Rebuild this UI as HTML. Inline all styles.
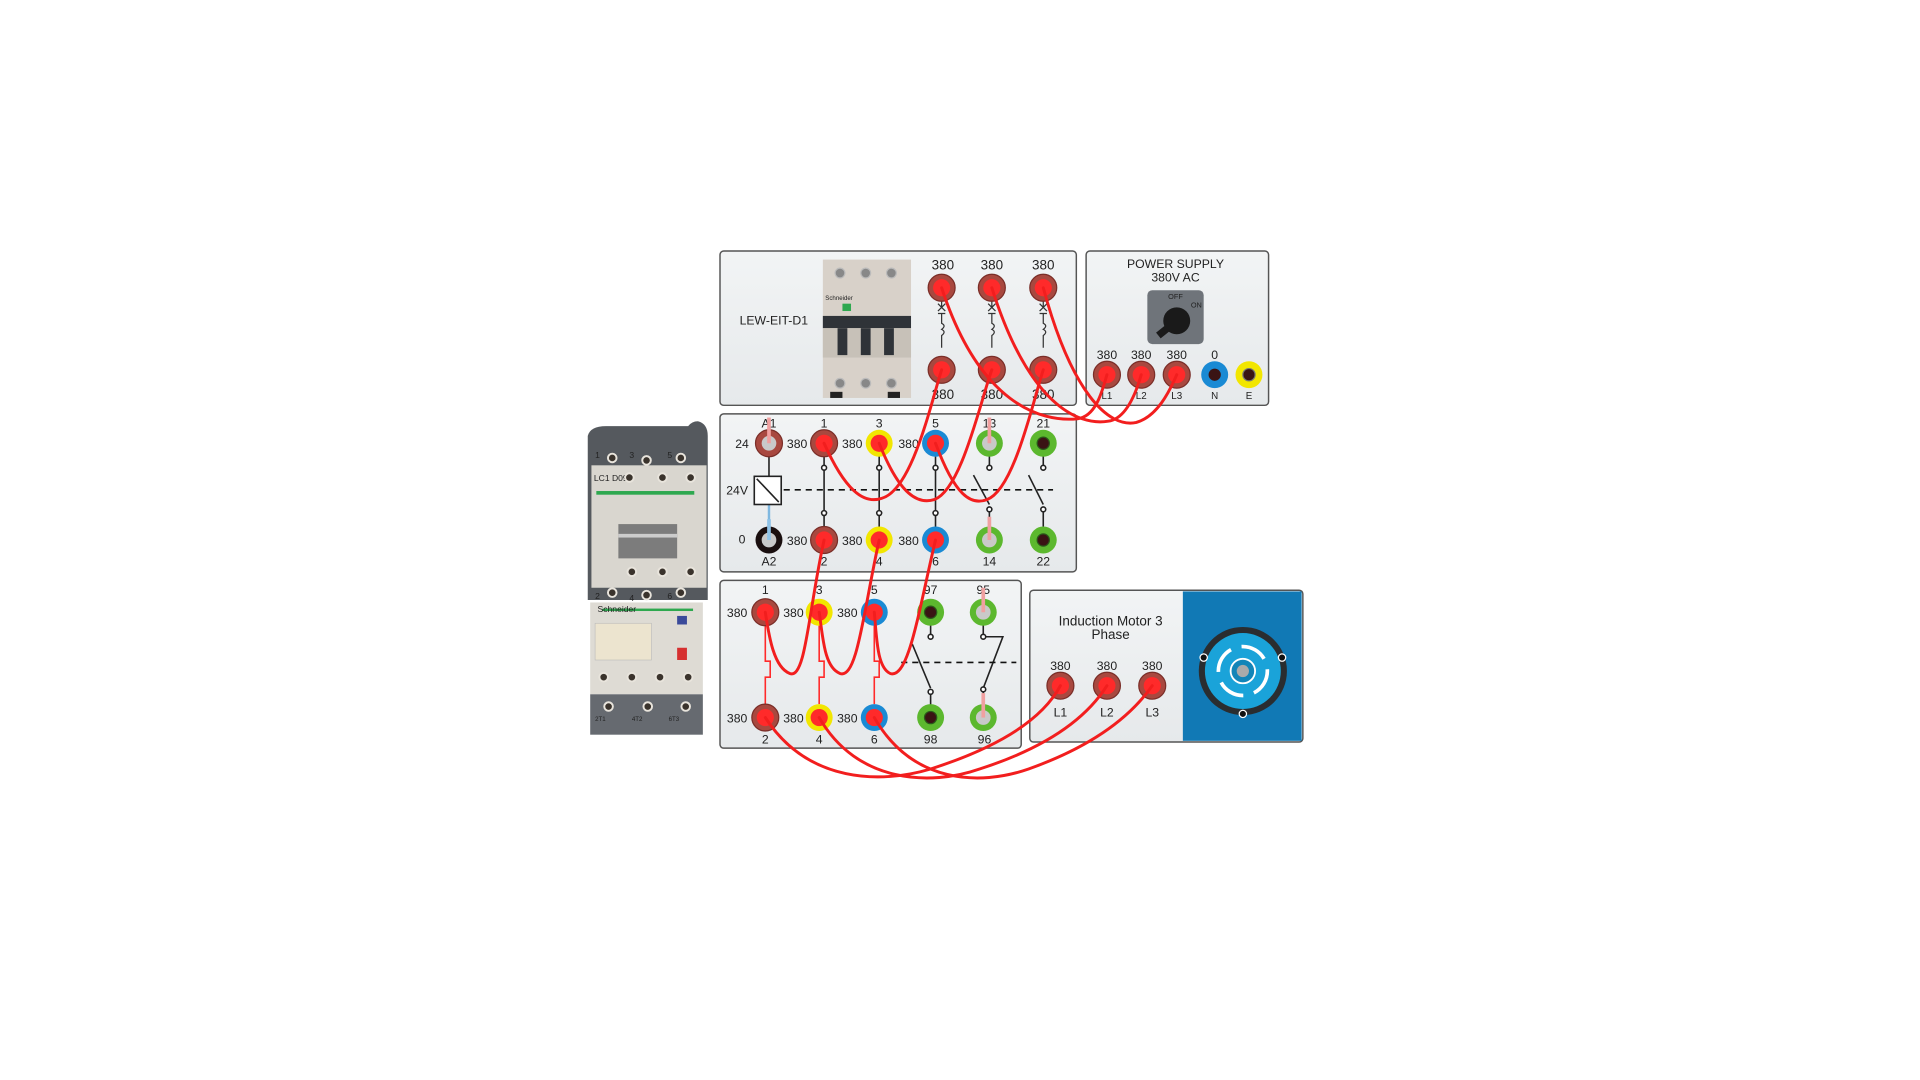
<!DOCTYPE html>
<html><head><meta charset="utf-8"><style>
html,body{margin:0;padding:0;background:#fff;width:1920px;height:1080px;overflow:hidden}
svg{display:block}
text{font-family:"Liberation Sans",sans-serif;fill:#222}
</style></head><body>
<svg width="1920" height="1080" viewBox="0 0 1568 882" preserveAspectRatio="none" xmlns="http://www.w3.org/2000/svg">
<defs>
<linearGradient id="pn" x1="0" y1="0" x2="0" y2="1"><stop offset="0" stop-color="#f2f4f5"/><stop offset="1" stop-color="#e6e9eb"/></linearGradient>
</defs>
<!-- left contactor image -->
<g>
<path d="M480,356 Q482,348 495,348 L562,348 Q565,344 570,344 Q578,346 578,356 L578,490 L480,490 Z" fill="#55595e"/>
<rect x="483" y="380" width="94" height="100" fill="#d9d6cf"/>
<rect x="505" y="428" width="48" height="28" fill="#7c7c7c"/>
<rect x="505" y="436" width="48" height="3" fill="#ccc"/>
<rect x="487" y="401" width="80" height="3" fill="#2ea84f"/>
<text x="485" y="393" font-size="7" fill="#999">LC1 D09</text>
<rect x="482" y="492" width="92" height="75" fill="#dedbd4"/>
<rect x="486" y="509" width="46" height="30" fill="#ece4cf" stroke="#bbb" stroke-width="0.5"/>
<rect x="553" y="503" width="8" height="7" fill="#3a4a9a"/>
<rect x="553" y="529" width="8" height="10" fill="#d63030"/>
<rect x="492" y="497" width="74" height="2" fill="#2ea84f"/>
<text x="488" y="500" font-size="7" fill="#2ea84f">Schneider</text>
<rect x="482" y="567" width="92" height="33" fill="#666a70"/>
<g fill="#3a332c" stroke="#e8e4dc" stroke-width="1.6">
<circle cx="500" cy="374" r="3.5"/><circle cx="528" cy="376" r="3.5"/><circle cx="556" cy="374" r="3.5"/>
<circle cx="514" cy="390" r="3.5"/><circle cx="541" cy="390" r="3.5"/><circle cx="564" cy="390" r="3.5"/>
<circle cx="516" cy="467" r="3.5"/><circle cx="541" cy="467" r="3.5"/><circle cx="564" cy="467" r="3.5"/>
<circle cx="500" cy="484" r="3.5"/><circle cx="528" cy="486" r="3.5"/><circle cx="556" cy="484" r="3.5"/>
<circle cx="493" cy="553" r="3.5"/><circle cx="516" cy="553" r="3.5"/><circle cx="539" cy="553" r="3.5"/><circle cx="562" cy="553" r="3.5"/>
<circle cx="497" cy="577" r="3.5"/><circle cx="529" cy="577" r="3.5"/><circle cx="560" cy="577" r="3.5"/>
</g>
<g font-size="7" fill="#eee"><text x="486" y="374" fill="#eee">1</text><text x="514" y="374" fill="#eee">3</text><text x="545" y="374" fill="#eee">5</text>
<text x="486" y="489" fill="#eee">2</text><text x="514" y="491" fill="#eee">4</text><text x="545" y="489" fill="#eee">6</text>
<text x="486" y="589" font-size="5" fill="#eee">2T1</text><text x="516" y="589" font-size="5" fill="#eee">4T2</text><text x="546" y="589" font-size="5" fill="#eee">6T3</text></g>
</g>

<!-- panels -->
<g stroke="#555" stroke-width="1.2" fill="url(#pn)">
<rect x="588" y="205" width="291" height="126" rx="3"/>
<rect x="887" y="205" width="149" height="126" rx="3"/>
<rect x="588" y="338" width="291" height="129" rx="3"/>
<rect x="588" y="474" width="246" height="137" rx="3"/>
<rect x="841" y="482" width="223" height="124" rx="3"/>
</g>
<rect x="966" y="483" width="97" height="122" fill="#1179b5"/>

<!-- MCB -->
<text x="604" y="265" font-size="10">LEW-EIT-D1</text>
<rect x="672" y="212" width="72" height="113" fill="#d8d1c9"/>
<rect x="672" y="258" width="72" height="10" fill="#2f3338"/>
<rect x="672" y="268" width="72" height="24" fill="#c7c1b8"/>
<rect x="684" y="268" width="8" height="22" fill="#2f3338"/><rect x="703" y="268" width="8" height="22" fill="#2f3338"/><rect x="722" y="268" width="8" height="22" fill="#2f3338"/>
<g fill="#888" stroke="#bbb"><circle cx="686" cy="223" r="4"/><circle cx="707" cy="223" r="4"/><circle cx="728" cy="223" r="4"/><circle cx="686" cy="313" r="4"/><circle cx="707" cy="313" r="4"/><circle cx="728" cy="313" r="4"/></g>
<rect x="678" y="320" width="10" height="5" fill="#222"/><rect x="725" y="320" width="10" height="5" fill="#222"/>
<text x="674" y="245" font-size="5" fill="#2ea84f">Schneider</text>
<rect x="688" y="248" width="7" height="6" fill="#2ea84f"/>
<g stroke="#333" stroke-width="1" fill="none">
<path d="M769,246 v5 m-3,-3 l6,6 m0,-6 l-6,6 m-0,2 h6 m-3,0 v8 q4,2 0,5 q4,2 0,5 v10"/>
<path d="M810,246 v5 m-3,-3 l6,6 m0,-6 l-6,6 m-0,2 h6 m-3,0 v8 q4,2 0,5 q4,2 0,5 v10"/>
<path d="M852,246 v5 m-3,-3 l6,6 m0,-6 l-6,6 m-0,2 h6 m-3,0 v8 q4,2 0,5 q4,2 0,5 v10"/>
</g>
<g font-size="11" text-anchor="middle">
<text x="770" y="220">380</text><text x="810" y="220">380</text><text x="852" y="220">380</text>
<text x="770" y="326">380</text><text x="810" y="326">380</text><text x="852" y="326">380</text>
</g>

<!-- Power supply -->
<g font-size="10" text-anchor="middle">
<text x="960" y="219">POWER SUPPLY</text><text x="960" y="230">380V AC</text>
<text x="904" y="293">380</text><text x="932" y="293">380</text><text x="961" y="293">380</text><text x="992" y="293">0</text>
</g>
<g font-size="8" text-anchor="middle"><text x="904" y="326">L1</text><text x="932" y="326">L2</text><text x="961" y="326">L3</text><text x="992" y="326">N</text><text x="1020" y="326">E</text></g>
<rect x="937" y="237" width="46" height="44" rx="4" fill="#6f747a"/>
<circle cx="961" cy="262" r="11" fill="#1a1a1a"/><path d="M961,262 L946,274" stroke="#1a1a1a" stroke-width="6"/>
<text x="960" y="244" font-size="6" text-anchor="middle" fill="#fff">OFF</text><text x="977" y="251" font-size="6" text-anchor="middle" fill="#fff">ON</text>

<!-- contactor panel -->
<g font-size="10" text-anchor="middle">
<text x="628" y="349">A1</text><text x="673" y="349">1</text><text x="718" y="349">3</text><text x="764" y="349">5</text><text x="808" y="349">13</text><text x="852" y="349">21</text>
<text x="628" y="462">A2</text><text x="673" y="462">2</text><text x="718" y="462">4</text><text x="764" y="462">6</text><text x="808" y="462">14</text><text x="852" y="462">22</text>
<text x="606" y="366">24</text><text x="651" y="366">380</text><text x="696" y="366">380</text><text x="742" y="366">380</text>
<text x="606" y="444">0</text><text x="651" y="445">380</text><text x="696" y="445">380</text><text x="742" y="445">380</text>
<text x="602" y="404">24V</text>
</g>
<g stroke="#222" stroke-width="1.3" fill="#fff">
<line x1="628" y1="370" x2="628" y2="389"/>
<line x1="628" y1="412" x2="628" y2="430" stroke="#7fb8e0" stroke-width="2"/>
<rect x="616" y="389" width="22" height="23"/><line x1="618" y1="391" x2="636" y2="410"/>
<line x1="673" y1="372" x2="673" y2="432"/><line x1="718" y1="372" x2="718" y2="432"/><line x1="764" y1="372" x2="764" y2="432"/>
<line x1="808" y1="372" x2="808" y2="382"/><line x1="852" y1="372" x2="852" y2="382"/>
<line x1="795" y1="388" x2="808" y2="412"/><line x1="840" y1="388" x2="852" y2="412"/>
<line x1="808" y1="418" x2="808" y2="430"/><line x1="852" y1="418" x2="852" y2="430"/>
<circle cx="673" cy="382" r="2"/><circle cx="673" cy="419" r="2"/><circle cx="718" cy="382" r="2"/><circle cx="718" cy="419" r="2"/><circle cx="764" cy="382" r="2"/><circle cx="764" cy="419" r="2"/>
<circle cx="808" cy="382" r="2"/><circle cx="808" cy="416" r="2"/><circle cx="852" cy="382" r="2"/><circle cx="852" cy="416" r="2"/>
</g>
<line x1="640" y1="400" x2="860" y2="400" stroke="#111" stroke-width="1.3" stroke-dasharray="5,4"/>

<!-- overload panel -->
<g font-size="10" text-anchor="middle">
<text x="625" y="485">1</text><text x="669" y="485">3</text><text x="714" y="485">5</text><text x="760" y="485">97</text><text x="803" y="485">95</text>
<text x="625" y="607">2</text><text x="669" y="607">4</text><text x="714" y="607">6</text><text x="760" y="607">98</text><text x="804" y="607">96</text>
<text x="602" y="504">380</text><text x="648" y="504">380</text><text x="692" y="504">380</text>
<text x="602" y="590">380</text><text x="648" y="590">380</text><text x="692" y="590">380</text>
</g>
<g stroke="#ff2a2a" stroke-width="1.3" fill="none">
<path d="M625,510 v30 h4 v13 h-4 v22"/><path d="M669,510 v30 h4 v13 h-4 v22"/><path d="M714,510 v30 h4 v13 h-4 v22"/>
</g>
<g stroke="#222" stroke-width="1.3" fill="#fff">
<line x1="760" y1="510" x2="760" y2="520"/><line x1="745" y1="526" x2="760" y2="562"/><line x1="760" y1="566" x2="760" y2="576"/>
<circle cx="760" cy="520" r="2"/><circle cx="760" cy="565" r="2"/>
<path d="M803,510 v10 h16 l-16,42 v14" fill="none"/><circle cx="803" cy="520" r="2"/><circle cx="803" cy="563" r="2"/>
</g>
<line x1="736" y1="541" x2="830" y2="541" stroke="#111" stroke-width="1.3" stroke-dasharray="5,4"/>

<!-- motor -->
<g font-size="11" text-anchor="middle"><text x="907" y="511">Induction Motor 3</text><text x="907" y="522">Phase</text></g>
<g font-size="10" text-anchor="middle"><text x="866" y="547">380</text><text x="904" y="547">380</text><text x="941" y="547">380</text>
<text x="866" y="585">L1</text><text x="904" y="585">L2</text><text x="941" y="585">L3</text></g>
<circle cx="1015" cy="548" r="36" fill="#2a2d30"/>
<circle cx="1015" cy="548" r="31" fill="#1aa3d9"/>
<circle cx="1015" cy="548" r="20" fill="none" stroke="#fff" stroke-width="3" stroke-dasharray="22,9"/>
<circle cx="1015" cy="548" r="10" fill="#1285b8" stroke="#fff" stroke-width="1.5"/>
<circle cx="1015" cy="548" r="5" fill="#aaa"/>
<g fill="#111" stroke="#fff" stroke-width="1"><circle cx="983" cy="537" r="3"/><circle cx="1047" cy="537" r="3"/><circle cx="1015" cy="583" r="3"/></g>

<!-- terminals -->
<g id="terms">
<!-- red plugged -->
<g fill="#a8483f" stroke="#7a2e28" stroke-width="1">
<circle cx="769" cy="235" r="11"/><circle cx="810" cy="235" r="11"/><circle cx="852" cy="235" r="11"/>
<circle cx="769" cy="302" r="11"/><circle cx="810" cy="302" r="11"/><circle cx="852" cy="302" r="11"/>
<circle cx="904" cy="306" r="11"/><circle cx="932" cy="306" r="11"/><circle cx="961" cy="306" r="11"/>
<circle cx="628" cy="362" r="11"/><circle cx="673" cy="362" r="11"/><circle cx="673" cy="441" r="11"/>
<circle cx="625" cy="500" r="11"/><circle cx="625" cy="586" r="11"/>
<circle cx="866" cy="560" r="11"/><circle cx="904" cy="560" r="11"/><circle cx="941" cy="560" r="11"/>
</g>
<g fill="#f2e600"><circle cx="718" cy="362" r="11"/><circle cx="718" cy="441" r="11"/><circle cx="669" cy="500" r="11"/><circle cx="669" cy="586" r="11"/><circle cx="1020" cy="306" r="11"/></g>
<g fill="#1a8ad4"><circle cx="764" cy="362" r="11"/><circle cx="764" cy="441" r="11"/><circle cx="714" cy="500" r="11"/><circle cx="714" cy="586" r="11"/><circle cx="992" cy="306" r="11"/></g>
<g fill="#5cb82e"><circle cx="808" cy="362" r="11"/><circle cx="852" cy="362" r="11"/><circle cx="808" cy="441" r="11"/><circle cx="852" cy="441" r="11"/>
<circle cx="760" cy="500" r="11"/><circle cx="803" cy="500" r="11"/><circle cx="760" cy="586" r="11"/><circle cx="803" cy="586" r="11"/></g>
<circle cx="628" cy="441" r="11" fill="#1a0f0f"/>
<g fill="#ff2a2a">
<circle cx="769" cy="235" r="7"/><circle cx="810" cy="235" r="7"/><circle cx="852" cy="235" r="7"/>
<circle cx="769" cy="302" r="7"/><circle cx="810" cy="302" r="7"/><circle cx="852" cy="302" r="7"/>
<circle cx="904" cy="306" r="7"/><circle cx="932" cy="306" r="7"/><circle cx="961" cy="306" r="7"/>
<circle cx="673" cy="362" r="7"/><circle cx="673" cy="441" r="7"/><circle cx="718" cy="362" r="7"/><circle cx="718" cy="441" r="7"/><circle cx="764" cy="362" r="7"/><circle cx="764" cy="441" r="7"/>
<circle cx="625" cy="500" r="7"/><circle cx="625" cy="586" r="7"/><circle cx="669" cy="500" r="7"/><circle cx="669" cy="586" r="7"/><circle cx="714" cy="500" r="7"/><circle cx="714" cy="586" r="7"/>
<circle cx="866" cy="560" r="7"/><circle cx="904" cy="560" r="7"/><circle cx="941" cy="560" r="7"/>
</g>
<g fill="#3a1414" stroke="#2a5a1a" stroke-width="1"><circle cx="852" cy="362" r="5"/><circle cx="852" cy="441" r="5"/><circle cx="760" cy="500" r="5"/><circle cx="760" cy="586" r="5"/></g>
<circle cx="992" cy="306" r="5" fill="#3a1414"/><circle cx="1020" cy="306" r="5" fill="#3a1414" stroke="#777"/>
<!-- pink plugs -->
<g fill="#c9c9c9"><circle cx="628" cy="362" r="6"/><circle cx="628" cy="441" r="6"/><circle cx="808" cy="362" r="6"/><circle cx="808" cy="441" r="6"/><circle cx="803" cy="500" r="6"/><circle cx="803" cy="586" r="6"/></g>
<g stroke="#f0a0a0" stroke-width="3"><line x1="628" y1="341" x2="628" y2="362"/><line x1="808" y1="341" x2="808" y2="362"/><line x1="808" y1="422" x2="808" y2="441"/><line x1="803" y1="480" x2="803" y2="500"/><line x1="803" y1="566" x2="803" y2="586"/></g>
<line x1="628" y1="424" x2="628" y2="441" stroke="#8fc3e8" stroke-width="3"/>
</g>

<!-- wires -->
<g stroke="#f21e1e" stroke-width="2.4" fill="none" stroke-linecap="round">
<path d="M769,235 C800,330 850,345 880,342 C895,340 900,320 904,306"/>
<path d="M810,235 C840,330 880,348 905,344 C920,342 928,320 932,306"/>
<path d="M852,235 C875,320 905,350 928,345 C945,340 955,320 961,306"/>
<path d="M673,362 C690,400 705,412 720,407 C745,400 760,330 769,302"/>
<path d="M718,362 C735,405 750,412 763,408 C785,400 800,330 810,302"/>
<path d="M764,362 C780,405 793,413 806,408 C828,400 843,330 852,302"/>
<path d="M673,441 C660,500 658,555 645,550 C632,545 628,520 625,500"/>
<path d="M718,441 C705,500 700,555 686,550 C673,545 672,520 669,500"/>
<path d="M764,441 C750,500 742,555 727,550 C716,545 716,520 714,500"/>
<path d="M625,586 C660,640 720,640 760,628 C810,612 850,590 866,560"/>
<path d="M669,586 C700,640 760,642 800,628 C850,612 885,590 904,560"/>
<path d="M714,586 C745,640 800,642 840,628 C885,612 920,590 941,560"/>
</g>
</svg>
</body></html>
